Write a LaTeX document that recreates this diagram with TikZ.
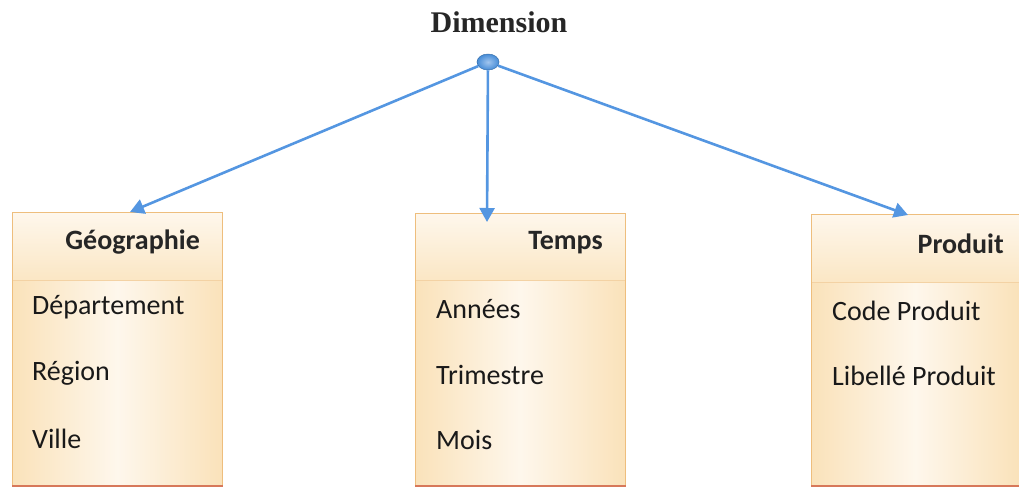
\documentclass[tikz,border=0pt]{standalone}
\usepackage{fontspec}
\setmainfont{Carlito}
\newfontfamily\dimfont{Liberation Serif}
\usetikzlibrary{calc,arrows.meta,shapes.geometric}
\definecolor{arrowblue}{RGB}{84,150,225}
\definecolor{dotblue}{RGB}{70,140,215}
\definecolor{boxedge}{RGB}{238,190,125}
\definecolor{boxorange}{RGB}{250,226,186}
\definecolor{boxlight}{RGB}{254,247,236}
\definecolor{boxbottom}{RGB}{215,120,90}
\tikzset{
  tablebox/.style={draw=boxedge, line width=0.8pt, left color=boxorange, right color=boxorange, middle color=boxlight, anchor=north west, inner sep=0pt},
  headband/.style={top color=boxlight, bottom color=boxorange!85, draw=none},
  itemtext/.style={font=\fontsize{28}{32}\selectfont, anchor=west, inner sep=0pt, text=black!90},
  headtext/.style={font=\fontsize{28}{32}\selectfont\bfseries, anchor=east, inner sep=0pt, text=black!85},
  link/.style={draw=arrowblue, line width=2.6pt, -{Triangle[length=14pt,width=15pt]}},
}
\begin{document}
\begin{tikzpicture}[x=1pt,y=-1pt]
\useasboundingbox (0,0) rectangle (1019,488);
% title
\node[font=\dimfont\fontsize{30}{34}\selectfont\bfseries, text=black!85] (title) at (499,22) {Dimension};
% boxes
\node[tablebox, minimum width=210pt, minimum height=273pt] (geo) at (12,212) {};
\node[tablebox, minimum width=210pt, minimum height=272pt] (tps) at (415,213) {};
\node[tablebox, minimum width=208pt, minimum height=271pt] (prd) at (811,214) {};
% header bands
\fill[headband] ($(geo.north west)+(0.5,0.5)$) rectangle ($(geo.north east)+(-0.5,68)$);
\fill[headband] ($(tps.north west)+(0.5,0.5)$) rectangle ($(tps.north east)+(-0.5,67)$);
\fill[headband] ($(prd.north west)+(0.5,0.5)$) rectangle ($(prd.north east)+(-0.5,68)$);
\draw[boxedge!70, line width=0.6pt] ($(geo.north west)+(0,68)$) -- ($(geo.north east)+(0,68)$);
\draw[boxedge!70, line width=0.6pt] ($(tps.north west)+(0,67)$) -- ($(tps.north east)+(0,67)$);
\draw[boxedge!70, line width=0.6pt] ($(prd.north west)+(0,68)$) -- ($(prd.north east)+(0,68)$);
\draw[boxedge, line width=0.8pt] (geo.north west) rectangle (geo.south east);
\draw[boxedge, line width=0.8pt] (tps.north west) rectangle (tps.south east);
\draw[boxedge, line width=0.8pt] (prd.north west) rectangle (prd.south east);
\draw[boxbottom, line width=1.5pt] (geo.south west) -- (geo.south east);
\draw[boxbottom, line width=1.5pt] (tps.south west) -- (tps.south east);
\draw[boxbottom, line width=1.5pt] (prd.south west) -- (prd.south east);
% header texts
\node[headtext] (geoh) at (200,242) {Géographie};
\node[headtext] (tpsh) at (603,243) {Temps};
\node[headtext] (prdh) at (1004,244) {Produit};
% items
\node[itemtext] (g1) at (32,307) {Département};
\node[itemtext] (g2) at (32,373) {Région};
\node[itemtext] (g3) at (32,439) {Ville};
\node[itemtext] (t1) at (436,309) {Années};
\node[itemtext] (t2) at (436,375) {Trimestre};
\node[itemtext] (t3) at (436,440) {Mois};
\node[itemtext] (p1) at (832,311) {Code Produit};
\node[itemtext] (p2) at (832,376) {Libellé Produit};
% dot
\node[ellipse, minimum width=22pt, minimum height=16pt, inner sep=0pt, draw=dotblue!80!black, line width=0.5pt, inner color=arrowblue!55, outer color=dotblue] (dot) at (488,62) {};
% connectors
\coordinate (ga) at ($(geo.north west)+(118,0)$);
\coordinate (ta) at ($(tps.north west)+(72,9)$);
\coordinate (pa) at ($(prd.north west)+(97,1)$);
\draw[link] (dot) -- (ga);
\draw[link] (dot) -- (ta);
\draw[link] (dot) -- (pa);
\end{tikzpicture}
\end{document}
